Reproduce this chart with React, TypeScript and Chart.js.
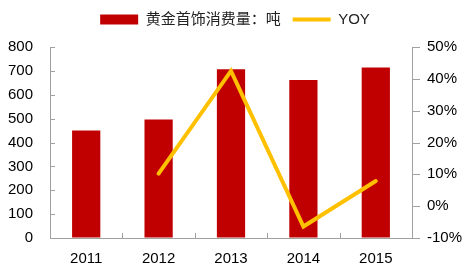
import React, { useEffect, useRef } from 'react';
import { Chart, registerables } from 'chart.js';

Chart.register(...registerables);

const categories = ['2011', '2012', '2013', '2014', '2015'];
const consumption = [450, 496, 707, 662, 714];
const yoy: (number | null)[] = [null, 10.2, 42.5, -6.4, 7.9];
const barLabel = '黄金首饰消费量：吨';
const lineLabel = 'YOY';

const legendSpacer = {
  id: 'legendSpacer',
  beforeLayout(chart: any) {
    const lg = chart.legend;
    if (lg && !lg.__spaced) {
      const orig = lg.fit;
      lg.fit = function () {
        orig.call(this);
        this.height += 10;
      };
      lg.__spaced = true;
    }
  },
};

const tickPlugin = {
  id: 'customTicks',
  afterDraw(chart: any) {
    const { ctx, chartArea, scales } = chart;
    ctx.save();
    ctx.strokeStyle = '#a0a0a0';
    ctx.lineWidth = 1;
    ctx.beginPath();
    const y = scales.y;
    y.ticks.forEach((_t: any, i: number) => {
      const py = Math.round(y.getPixelForTick(i)) + 0.5;
      ctx.moveTo(chartArea.left, py);
      ctx.lineTo(chartArea.left + 5, py);
    });
    const y1 = scales.y1;
    y1.ticks.forEach((_t: any, i: number) => {
      const py = Math.round(y1.getPixelForTick(i)) + 0.5;
      ctx.moveTo(chartArea.right, py);
      ctx.lineTo(chartArea.right + 8, py);
    });
    const x = scales.x;
    for (let i = 0; i < x.ticks.length - 1; i++) {
      const px = Math.round((x.getPixelForTick(i) + x.getPixelForTick(i + 1)) / 2) + 0.5;
      ctx.moveTo(px, chartArea.bottom);
      ctx.lineTo(px, chartArea.bottom - 5);
    }
    ctx.stroke();
    ctx.restore();
  },
};

export default function App() {
  const ref = useRef<HTMLCanvasElement>(null);
  useEffect(() => {
    if (!ref.current) return;
    const tickFont = { family: '"Liberation Sans", Arial, sans-serif', size: 15 };
    const chart = new Chart(ref.current, {
      type: 'bar',
      data: {
        labels: categories,
        datasets: [
          {
            type: 'bar',
            label: barLabel,
            data: consumption,
            backgroundColor: '#C00000',
            borderWidth: 0,
            yAxisID: 'y',
            categoryPercentage: 1,
            barPercentage: 0.39,
            pointStyle: 'rect',
            order: 2,
          } as any,
          {
            type: 'line',
            label: lineLabel,
            data: yoy,
            borderColor: '#FFC000',
            backgroundColor: '#FFC000',
            borderWidth: 4,
            pointRadius: 0,
            pointStyle: 'line',
            borderJoinStyle: 'miter',
            borderCapStyle: 'round',
            tension: 0,
            yAxisID: 'y1',
            order: 1,
          } as any,
        ],
      },
      options: {
        animation: false,
        responsive: false,
        maintainAspectRatio: false,
        layout: { padding: { left: 0, right: 0, top: 0, bottom: 0 } },
        plugins: {
          tooltip: { enabled: false },
          legend: {
            display: true,
            position: 'top',
            labels: {
              usePointStyle: true,
              pointStyleWidth: 38,
              boxHeight: 10,
              padding: 12,
              color: '#222',
              font: { family: '"Liberation Sans", "Noto Sans CJK SC", sans-serif', size: 15 },
              sort: (a: any, b: any) => a.datasetIndex - b.datasetIndex,
            },
          },
        },
        scales: {
          x: {
            type: 'category',
            offset: true,
            grid: { display: true, drawOnChartArea: false, drawTicks: false },
            border: { display: true, color: '#a0a0a0', width: 1 },
            ticks: { color: '#000', font: tickFont, padding: 12, maxRotation: 0 },
            afterFit: (s: any) => { s.height = 41; },
          },
          y: {
            type: 'linear',
            position: 'left',
            min: 0,
            max: 800,
            grid: { display: true, drawOnChartArea: false, drawTicks: false },
            border: { display: true, color: '#a0a0a0', width: 1 },
            ticks: { stepSize: 100, color: '#000', font: tickFont, padding: 17 },
            afterFit: (s: any) => { s.width = 50; },
          },
          y1: {
            type: 'linear',
            position: 'right',
            min: -10,
            max: 50,
            grid: { display: true, drawOnChartArea: false, drawTicks: false },
            border: { display: true, color: '#a0a0a0', width: 1 },
            ticks: {
              stepSize: 10,
              color: '#000',
              font: tickFont,
              padding: 15,
              callback: (v: any) => `${v}%`,
            },
            afterFit: (s: any) => { s.width = 58; },
          },
        },
      },
      plugins: [legendSpacer, tickPlugin],
    });
    return () => chart.destroy();
  }, []);
  return (
    <div style={{ position: 'absolute', left: 0, top: 0, width: 470, height: 279 }}>
      <canvas ref={ref} width={470} height={279} style={{ width: 470, height: 279 }} />
    </div>
  );
}
